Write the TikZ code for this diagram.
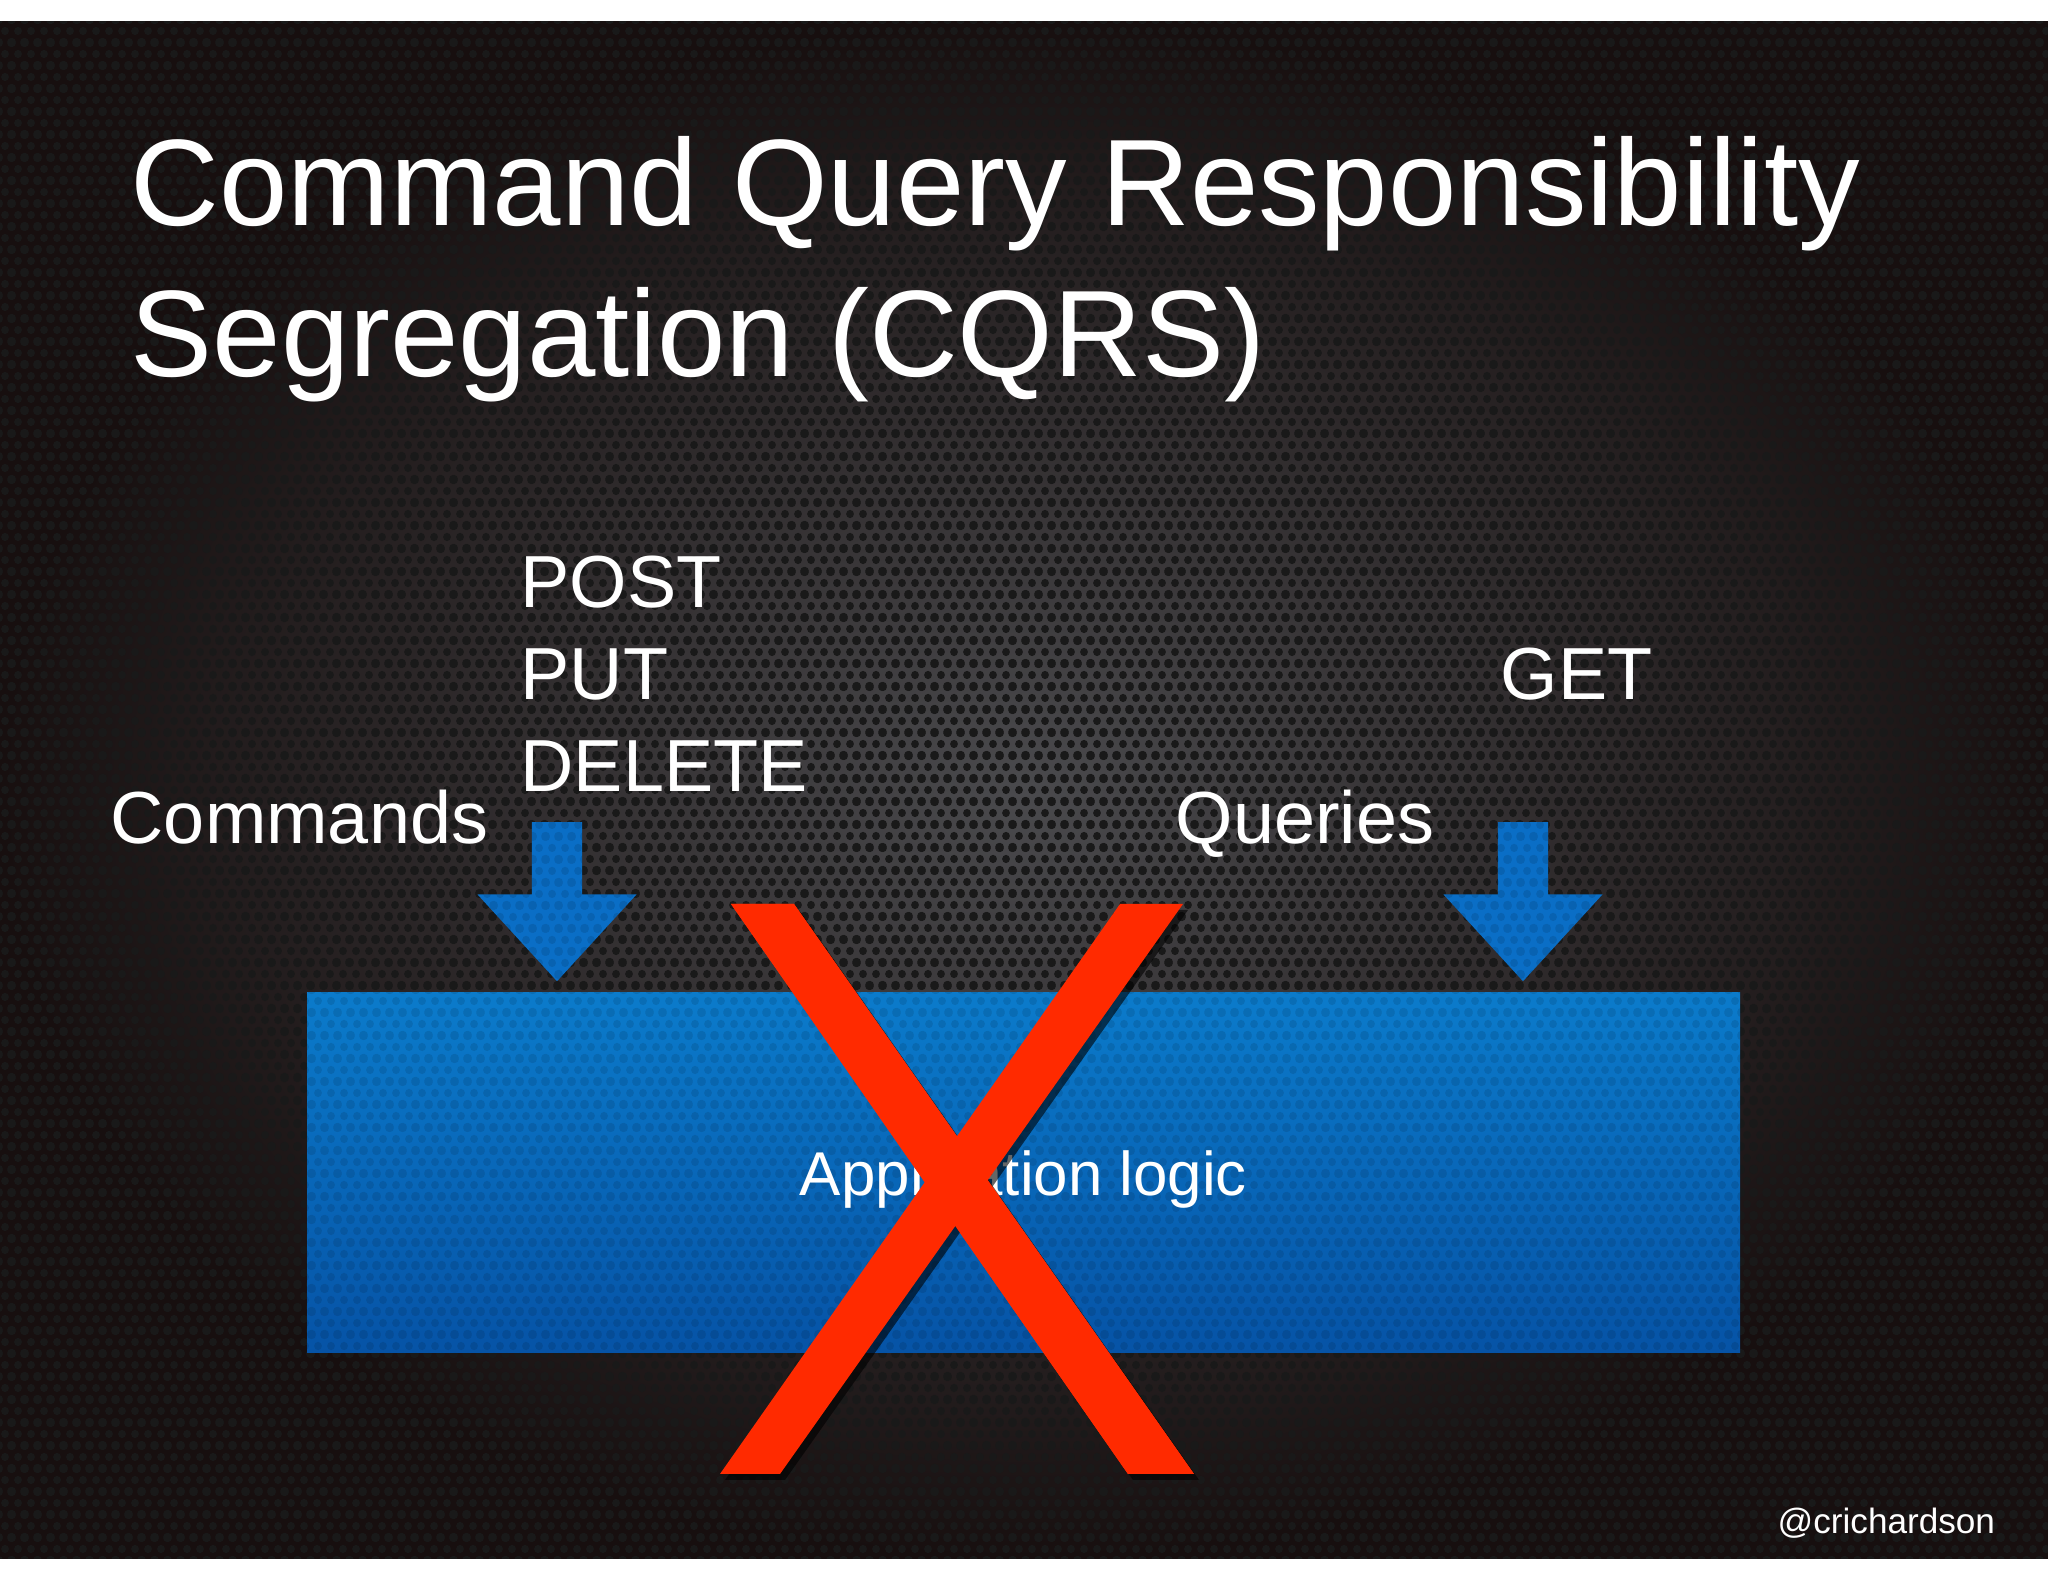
\documentclass[tikz,border=0pt]{standalone}
\usepackage{fontspec}
\setmainfont{Liberation Sans}
\usetikzlibrary{patterns,shadows,shapes.arrows}

\definecolor{platedark}{HTML}{170F0F}
\definecolor{platemid}{HTML}{4A4A4D}
\definecolor{boxtop}{HTML}{0B7BCB}
\definecolor{boxbot}{HTML}{0653A6}
\definecolor{arrowblue}{HTML}{0A6EC6}
\definecolor{crossred}{HTML}{FF2A00}

% perforated plate holes
\pgfdeclarepatternformonly{holes}{\pgfpointorigin}{\pgfqpoint{0.13cm}{0.225cm}}{\pgfqpoint{0.13cm}{0.225cm}}{%
  \pgfpathcircle{\pgfpointorigin}{0.042cm}
  \pgfpathcircle{\pgfqpoint{0.13cm}{0cm}}{0.042cm}
  \pgfpathcircle{\pgfqpoint{0cm}{0.225cm}}{0.042cm}
  \pgfpathcircle{\pgfqpoint{0.13cm}{0.225cm}}{0.042cm}
  \pgfpathcircle{\pgfqpoint{0.065cm}{0.1125cm}}{0.042cm}
  \pgfusepath{fill}}

\begin{document}
\begin{tikzpicture}[
    title/.style={text=white, inner sep=0pt, font=\fontsize{35}{42}\selectfont},
    verb/.style={text=white, inner sep=0pt, font=\fontsize{21}{25}\selectfont},
    appbox/.style={top color=boxtop, bottom color=boxbot, inner sep=0pt,
      minimum width=14.33cm, minimum height=3.60cm, text=white,
      text height=0.46cm, text depth=0pt, font=\fontsize{17.6}{21}\selectfont,
      postaction={pattern=holes, pattern color=black, fill opacity=0.10}},
    blockarrow/.style={single arrow, fill=arrowblue, rotate=-90, inner sep=0pt,
      text height=0.49cm, text depth=0pt, minimum height=1.59cm,
      single arrow head extend=0.545cm, single arrow tip angle=85,
      postaction={pattern=holes, pattern color=black, fill opacity=0.10}},
    cross/.style={fill=crossred,
      drop shadow={shadow xshift=0.05cm, shadow yshift=-0.06cm, opacity=0.6, fill=black}}
  ]
  \useasboundingbox (0,0) rectangle (20.48,15.82);
  \fill[white] (0,0) rectangle (20.48,15.82);
  % plate
  \shade[inner color=platemid, outer color=platedark] (0,0.23) rectangle (20.48,15.60);
  \fill[pattern=holes, pattern color=black!90] (0,0.23) rectangle (20.48,15.60);

  \node[title, anchor=base west] (title1) at (1.30,13.56) {Command Query Responsibility};
  \node[title, anchor=base west] (title2) at (1.30,12.05) {Segregation (CQRS)};

  \node[verb, anchor=base west] (post) at (5.20,9.74) {POST};
  \node[verb, anchor=base west] (put) at (5.20,8.82) {PUT};
  \node[verb, anchor=base west] (delete) at (5.20,7.90) {DELETE};
  \node[verb, anchor=base west] (commands) at (1.10,7.38) {Commands};
  \node[verb, anchor=base west] (queries) at (11.75,7.38) {Queries};
  \node[verb, anchor=base west] (get) at (15.00,8.82) {GET};

  \node[appbox] (app) at (10.235,4.09) {Application logic};

  \node[blockarrow, anchor=tip] (cmdarrow) at ([yshift=0.10cm]app.north -| 5.57,0) {};
  \node[blockarrow, anchor=tip] (qryarrow) at ([yshift=0.10cm]app.north -| 15.23,0) {};

  % the cross
  \coordinate (a1) at (7.31,6.78);
  \coordinate (a2) at (7.94,6.78);
  \coordinate (a3) at (11.94,1.08);
  \coordinate (a4) at (11.28,1.08);
  \coordinate (b1) at (11.20,6.78);
  \coordinate (b2) at (11.83,6.78);
  \coordinate (b3) at (7.80,1.08);
  \coordinate (b4) at (7.20,1.08);
  \fill[cross] (a1) -- (a2) -- (a3) -- (a4) -- cycle;
  \fill[cross] (b1) -- (b2) -- (b3) -- (b4) -- cycle;
  \fill[crossred] (a1) -- (a2) -- (a3) -- (a4) -- cycle;

  \node[text=white, inner sep=0pt, anchor=base west, font=\fontsize{10}{12}\selectfont]
    (handle) at (17.77,0.48) {@crichardson};
\end{tikzpicture}
\end{document}
